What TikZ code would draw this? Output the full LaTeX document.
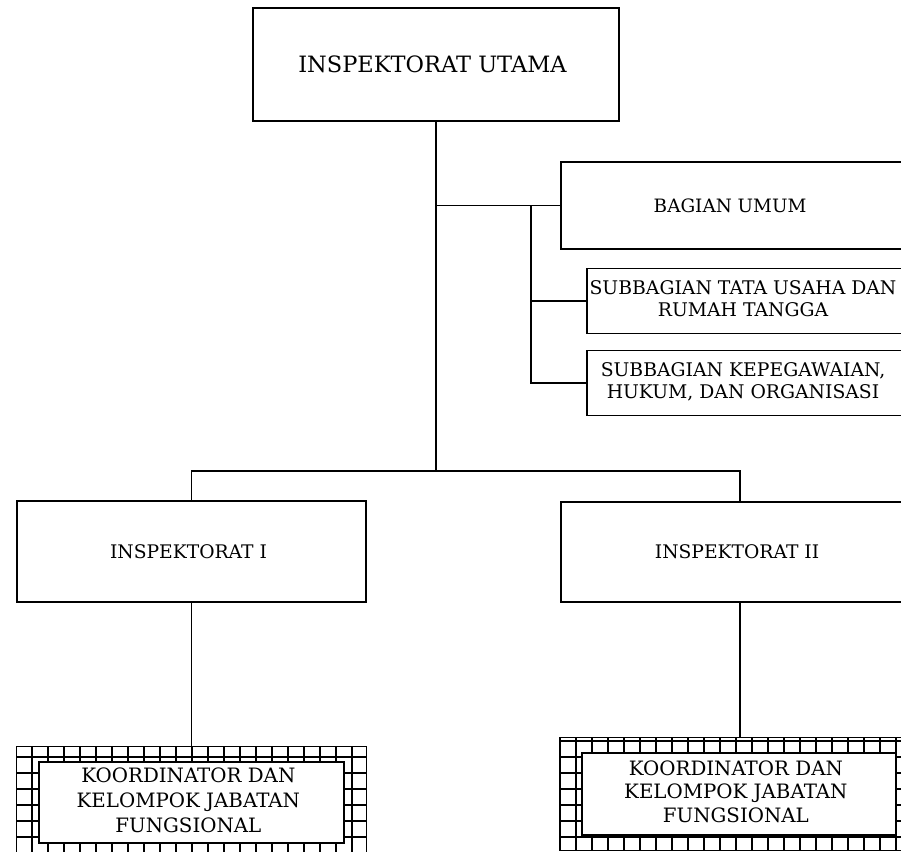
\documentclass[tikz,border=0pt]{standalone}
\usepackage{fontspec}
\setmainfont{DejaVu Serif}
\usetikzlibrary{backgrounds}

\begin{document}
\begin{tikzpicture}[x=1pt, y=-1pt, line width=1.2pt,
        box/.style = {draw, fill=white, inner sep=0pt, align=center},
        band/.style = {line width=1.2pt}]
    \useasboundingbox (0,0) rectangle (901,851);
    \clip (0,0) rectangle (901,851);
    \node[box, minimum width=366pt, minimum height=113pt, font=\fontsize{22.5}{26}\selectfont] (0) at (436,64.5) {
        INSPEKTORAT UTAMA
    };
    \node[box, minimum width=344pt, minimum height=87pt, font=\fontsize{18.4}{22}\selectfont] (1) at (733,205.5) {
        BAGIAN UMUM
    };
    \node[box, minimum width=318pt, minimum height=65pt, font=\fontsize{18.8}{21.5}\selectfont] (2) at (746,301) {
        \begin{tabular}{@{}c@{}}
            SUBBAGIAN TATA USAHA DAN \\
            RUMAH TANGGA \\
        \end{tabular}
    };
    \node[box, minimum width=318pt, minimum height=65pt, font=\fontsize{18.8}{22}\selectfont] (3) at (746,383) {
        \begin{tabular}{@{}c@{}}
            SUBBAGIAN KEPEGAWAIAN, \\
            HUKUM, DAN ORGANISASI \\
        \end{tabular}
    };
    \node[box, minimum width=349pt, minimum height=101pt, font=\fontsize{18.7}{23}\selectfont] (4) at (191.5,551.5) {
        INSPEKTORAT I
    };
    \node[box, minimum width=358pt, minimum height=100pt, font=\fontsize{18.7}{23}\selectfont] (5) at (740,552) {
        INSPEKTORAT II
    };
    \node[box, minimum width=305pt, minimum height=81pt, font=\fontsize{19.8}{25}\selectfont] (6) at (191.5,802.5) {
        \begin{tabular}{@{}c@{}}
            KOORDINATOR DAN \\
            KELOMPOK JABATAN \\
            FUNGSIONAL \\
        \end{tabular}
    };
    \node[box, minimum width=314pt, minimum height=82pt, font=\fontsize{19.8}{23.5}\selectfont] (7) at (739,794) {
        \begin{tabular}{@{}c@{}}
            KOORDINATOR DAN \\
            KELOMPOK JABATAN \\
            FUNGSIONAL \\
        \end{tabular}
    };

    \begin{scope}[on background layer]
        \clip (0,0) rectangle (901,851);
        \clip ([shift={(-22pt,15pt)}]6.north west) rectangle ([shift={(22pt,-15pt)}]6.south east)
              ([shift={(-22pt,15pt)}]7.north west) rectangle ([shift={(22pt,-15pt)}]7.south east);
        \draw[band, yshift=-5pt] (0,690) grid[step=16pt] (901,880);
    \end{scope}
    \draw[band] ([shift={(-22pt,15pt)}]6.north west) rectangle ([shift={(22pt,-15pt)}]6.south east);
    \draw[band] ([shift={(-22pt,15pt)}]7.north west) rectangle ([shift={(22pt,-15pt)}]7.south east);

    \coordinate (bus) at (436,471);
    \coordinate (tap) at (531,206);
    \draw (0.south) -- (bus);
    \draw (0.south |- 1.west) -- (1.west);
    \draw (tap) |- (2.west);
    \draw (tap) |- (3.west);
    \draw (4.north) |- (bus) -| (5.north);
    \draw (4.south) -- ([yshift=15pt]4.south |- 6.north);
    \draw (5.south) -- ([yshift=15pt]5.south |- 7.north);
\end{tikzpicture}
\end{document}
